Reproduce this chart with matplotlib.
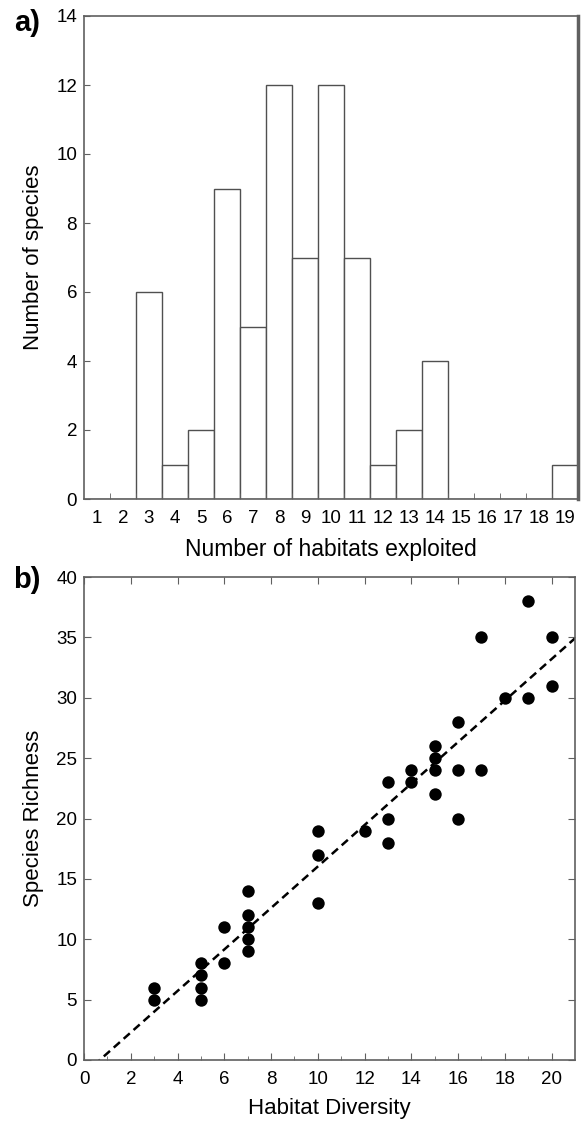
import numpy as np
import matplotlib
matplotlib.use("Agg")
import matplotlib.pyplot as plt

plt.rcParams["font.family"] = ["Liberation Sans", "DejaVu Sans"]

# -----------------------------
# Data
# -----------------------------

habitats = list(range(1, 20))
n_species = [0, 0, 6, 1, 2, 9, 5, 12, 7, 12, 7, 1, 2, 4, 0, 0, 0, 0, 1]

habitat_diversity = [3, 3, 5, 5, 5, 5, 6, 6, 7, 7, 7, 7, 7, 10, 10, 10, 12,
                     13, 13, 13, 14, 14, 15, 15, 15, 15, 16, 16, 16, 17, 17,
                     18, 19, 19, 20, 20]
species_richness = [6, 5, 8, 7, 6, 5, 11, 8, 14, 12, 11, 10, 9, 19, 17, 13, 19,
                    23, 20, 18, 24, 23, 26, 25, 24, 22, 28, 24, 20, 35, 24,
                    30, 38, 30, 35, 31]

frame_col = "#606060"
W, H = 584, 1124
tick_fs = 13.5

fig = plt.figure(figsize=(W / 100, H / 100), dpi=100)

# -----------------------------
# a) Histogram
# -----------------------------

ax1 = fig.add_axes([84 / W, 1 - 499 / H, 494 / W, 483 / H])
ax1.bar(habitats, n_species, width=1.0, color="white",
        edgecolor="#505050", linewidth=1.0)
ax1.set_xlim(0.5, 19.5)
ax1.set_ylim(0, 14)
ax1.set_yticks(range(0, 15, 2))
ax1.set_xticks(habitats)
ax1.set_xticks(np.arange(1.5, 19, 1), minor=True)
ax1.tick_params(axis="x", which="major", length=0, labelsize=tick_fs, pad=8)
ax1.tick_params(axis="x", which="minor", direction="in", length=4,
                color=frame_col)
ax1.tick_params(axis="y", direction="in", length=4, labelsize=tick_fs,
                color=frame_col, pad=5)
ax1.set_xlabel("Number of habitats exploited", fontsize=16.5, labelpad=8)
ax1.set_ylabel("Number of species", fontsize=16, labelpad=9)
for s in ax1.spines.values():
    s.set_color(frame_col)
    s.set_linewidth(1.2)
ax1.spines["right"].set_linewidth(2.5)
fig.text(27 / W, 1 - 23 / H, "a)", fontsize=21, fontweight="bold",
         va="center", ha="center")

# -----------------------------
# b) Scatter with regression line
# -----------------------------

slope, intercept = np.polyfit(habitat_diversity, species_richness, 1)

ax2 = fig.add_axes([84 / W, 1 - 1060 / H, 491 / W, 483 / H])
ax2.scatter(habitat_diversity, species_richness, s=80, color="black",
            linewidths=0, zorder=3)
xl = np.array([0, 21])
ax2.plot(xl, slope * xl + intercept, color="black", linestyle=(0, (3.3, 2)),
         linewidth=1.8)
ax2.set_xlim(0, 21)
ax2.set_ylim(0, 40)
ax2.set_xticks(range(0, 21, 2))
ax2.set_xticks(range(1, 21, 2), minor=True)
ax2.set_yticks(range(0, 41, 5))
ax2.tick_params(which="both", direction="in", top=True, right=True,
                color=frame_col, labelsize=tick_fs)
ax2.tick_params(which="major", length=5)
ax2.tick_params(axis="x", which="major", pad=8)
ax2.tick_params(axis="y", which="major", pad=5)
ax2.tick_params(which="minor", length=3, top=False)
ax2.set_xlabel("Habitat Diversity", fontsize=16, labelpad=7)
ax2.set_ylabel("Species Richness", fontsize=16, labelpad=9)
for s in ax2.spines.values():
    s.set_color(frame_col)
    s.set_linewidth(1.2)
fig.text(27 / W, 1 - 580 / H, "b)", fontsize=21, fontweight="bold",
         va="center", ha="center")

fig.savefig("out.png", dpi=100)
